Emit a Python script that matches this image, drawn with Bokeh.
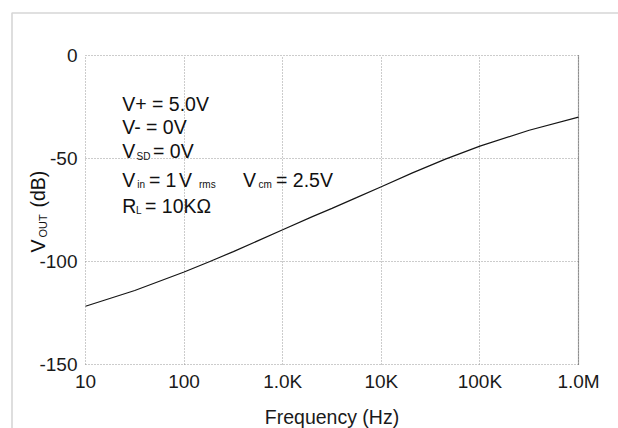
import math
from bokeh.plotting import figure
from bokeh.models import FixedTicker, Label, BoxAnnotation, Range1d
from bokeh.embed import file_html
from bokeh.resources import INLINE

# ---- data ----
freq_hz = [10, 31.6, 100, 180, 316, 1000, 2000, 3160, 5600, 10000,
           20700, 44700, 100000, 316000, 1000000]
vout_db = [-121.7, -114.1, -105.1, -100.1, -95.2, -84.6, -78.2, -74.2, -69.0, -63.7,
           -57.0, -50.3, -44.0, -36.3, -29.9]
x_ticks = [10, 100, 1000, 10000, 100000, 1000000]
x_tick_labels = ["10", "100", "1.0K", "10K", "100K", "1.0M"]
y_ticks = [0, -50, -100, -150]
y_tick_labels = ["0", "-50", "-100", "-150"]
x_title = "Frequency (Hz)"

# ---- layout (pixels) ----
W, H = 618, 428
PX_L, PX_R, PY_T, PY_B = 85, 578, 55, 364
FONT = "Liberation Sans"
MAIN = "19.5px"
TICK = "19px"
SUB = "10px"
GRID = "#999999"

lx0, lx1 = math.log10(x_ticks[0]), math.log10(x_ticks[-1])
dec_px = (PX_R - PX_L) / (lx1 - lx0)
x_rng = Range1d(10 ** (lx0 - PX_L / dec_px), 10 ** (lx1 + (W - PX_R) / dec_px))
db_px = (PY_B - PY_T) / (y_ticks[0] - y_ticks[-1])
y_rng = Range1d(y_ticks[-1] - (H - PY_B) / db_px, y_ticks[0] + PY_T / db_px)

p = figure(width=W, height=H, x_axis_type="log", x_range=x_rng, y_range=y_rng,
           output_backend="svg", toolbar_location=None,
           min_border_left=0, min_border_right=0, min_border_top=0, min_border_bottom=0)
p.outline_line_color = None
p.background_fill_color = "white"
p.border_fill_color = "white"

# grids limited to the plotting box
p.xgrid.ticker = FixedTicker(ticks=x_ticks)
p.ygrid.ticker = FixedTicker(ticks=y_ticks)
for g in (p.xgrid, p.ygrid):
    g.grid_line_color = GRID
    g.grid_line_dash = "1 2"
    g.grid_line_width = 1
try:
    p.xgrid.bounds = (x_ticks[0], x_ticks[-1])
    p.ygrid.bounds = (y_ticks[-1], y_ticks[0])
    p.xgrid.cross_bounds = (y_ticks[-1], y_ticks[0])
    p.ygrid.cross_bounds = (x_ticks[0], x_ticks[-1])
except AttributeError:
    p.xgrid.visible = False
    p.ygrid.visible = False
    p.segment(x0=x_ticks, y0=[y_ticks[-1]] * len(x_ticks), x1=x_ticks, y1=[y_ticks[0]] * len(x_ticks),
              line_color=GRID, line_dash="1 2", line_width=1)
    p.segment(x0=[x_ticks[0]] * len(y_ticks), y0=y_ticks, x1=[x_ticks[-1]] * len(y_ticks), y1=y_ticks,
              line_color=GRID, line_dash="1 2", line_width=1)

# darker right edge of the plotting box
p.segment(x0=[x_ticks[-1]], y0=[y_ticks[-1]], x1=[x_ticks[-1]], y1=[y_ticks[0]],
          line_color="#555555", line_dash="1 1", line_width=1.2)

p.line(freq_hz, vout_db, line_color="#151515", line_width=1.2)

# axes placed at the edges of the plotting box
xa = p.xaxis[0]
ya = p.yaxis[0]
xa.fixed_location = y_ticks[-1]
ya.fixed_location = x_ticks[0]
xa.bounds = (x_ticks[0], x_ticks[-1])
ya.bounds = (y_ticks[-1], y_ticks[0])
xa.ticker = FixedTicker(ticks=x_ticks)
xa.major_label_overrides = dict(zip(x_ticks, x_tick_labels))
ya.ticker = FixedTicker(ticks=y_ticks)
ya.major_label_overrides = dict(zip(y_ticks, y_tick_labels))
for ax in (xa, ya):
    ax.axis_line_color = None
    ax.major_tick_line_color = None
    ax.minor_tick_line_color = None
    ax.major_tick_out = 0
    ax.major_tick_in = 0
    ax.minor_tick_out = 0
    ax.major_label_text_font = FONT
    ax.major_label_text_font_size = TICK
    ax.major_label_text_color = "#1a1a1a"
xa.major_label_standoff = 6
ya.major_label_standoff = 8
xa.axis_label = x_title
xa.axis_label_text_font = FONT
xa.axis_label_text_font_size = MAIN
xa.axis_label_text_font_style = "normal"
xa.axis_label_text_color = "#1a1a1a"
xa.axis_label_standoff = 11

# outer frame (left and top edges visible)
p.add_layout(BoxAnnotation(left=11.5, right=W + 50, bottom=-50, top=H - 12.5,
                           left_units="screen", right_units="screen",
                           top_units="screen", bottom_units="screen",
                           fill_color=None, fill_alpha=0,
                           line_color="#767676", line_width=1.6))

def lab(text, px, py, size=MAIN, angle=0.0):
    # px, py: page pixel position of the text baseline start
    p.add_layout(Label(x=px, y=H - py, x_units="screen", y_units="screen", text=text,
                       text_font=FONT, text_font_size=size, text_color="#111111",
                       text_align="left", text_baseline="alphabetic", angle=angle))

# y axis title with subscript (rotated)
lab("V", 37.5, 252, angle=math.pi / 2)
lab("OUT", 42.5, 237, size="11px", angle=math.pi / 2)
lab("(dB)", 37.5, 207, angle=math.pi / 2)

# condition annotations
lab("V+ = 5.0V", 121.7, 103.3)
lab("V- = 0V", 121.7, 126.7)
lab("V", 121.7, 150.7)
lab("SD", 136, 155.7, size=SUB)
lab("= 0V", 152.5, 150.7)
lab("V", 121.7, 179.3)
lab("in", 136.7, 184.3, size=SUB)
lab("=", 148.5, 179.3)
lab("1", 165, 179.3)
lab("V", 178.5, 179.3)
lab("rms", 198.5, 184.3, size=SUB)
lab("V", 242.5, 179.3)
lab("cm", 258, 184.3, size=SUB)
lab("= 2.5V", 275.5, 179.3)
lab("R", 121.7, 205)
lab("L", 135.5, 210, size=SUB)
lab("= 10K\u03a9", 144.5, 205)

open("out.html", "w").write(file_html(p, INLINE))
